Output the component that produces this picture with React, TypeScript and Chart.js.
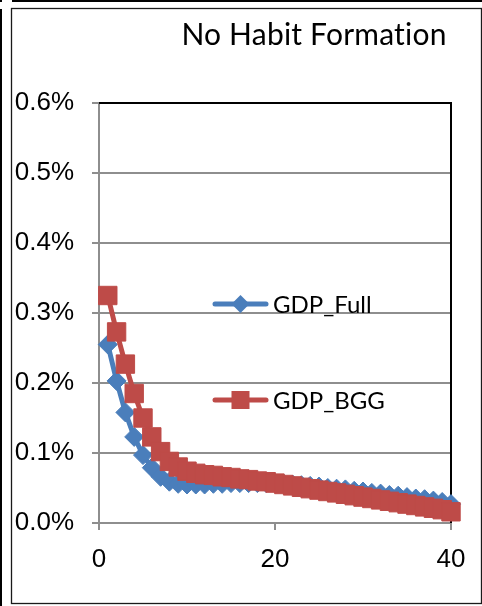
import React, { useEffect, useRef } from 'react';
import { Chart, registerables } from 'chart.js';

Chart.register(...registerables);

const chartTitle = 'No Habit Formation';
const periods = [
  1, 2, 3, 4, 5, 6, 7, 8, 9, 10,
  11, 12, 13, 14, 15, 16, 17, 18, 19, 20,
  21, 22, 23, 24, 25, 26, 27, 28, 29, 30,
  31, 32, 33, 34, 35, 36, 37, 38, 39, 40,
];
// values in percent
const gdpFull = [
  0.255, 0.203, 0.158, 0.123, 0.097, 0.079, 0.066, 0.059, 0.056, 0.055,
  0.055, 0.055, 0.056, 0.056, 0.057, 0.057, 0.057, 0.057, 0.057, 0.057,
  0.056, 0.055, 0.054, 0.053, 0.052, 0.050, 0.049, 0.048, 0.046, 0.045,
  0.043, 0.042, 0.040, 0.039, 0.037, 0.035, 0.034, 0.032, 0.030, 0.027,
];
const gdpBGG = [
  0.325, 0.273, 0.227, 0.185, 0.150, 0.123, 0.102, 0.088, 0.080, 0.074,
  0.071, 0.069, 0.068, 0.066, 0.065, 0.063, 0.062, 0.060, 0.059, 0.057,
  0.055, 0.053, 0.051, 0.049, 0.047, 0.045, 0.043, 0.041, 0.039, 0.037,
  0.035, 0.033, 0.031, 0.029, 0.027, 0.025, 0.023, 0.021, 0.019, 0.016,
];
const seriesNames = ['GDP_Full', 'GDP_BGG'];
const seriesColors = ['#4A7EBB', '#BE4B48'];
const xTickStep = 20;
const yTickStep = 0.1;

const W = 482;
const H = 606;
const GRID = '#8e8e8e';
const TICK_FONT = '"Liberation Sans", Arial, sans-serif';
const TEXT_FONT = 'Lato, "Open Sans", sans-serif';

const decorPlugin = {
  id: 'decor',
  beforeDraw(chart: any) {
    const ctx = chart.ctx;
    ctx.save();
    ctx.fillStyle = '#fff';
    ctx.fillRect(0, 0, W, H);
    ctx.fillStyle = '#000';
    ctx.fillRect(12, 0, W - 12, 2);
    ctx.fillRect(0, 0, 2, 2);
    ctx.fillRect(0, 9, 2, H - 9);
    ctx.strokeStyle = '#1a1a1a';
    ctx.lineWidth = 1.3;
    ctx.strokeRect(11.5, 8.5, 470, 595);
    ctx.restore();
  },
  beforeDatasetsDraw(chart: any) {
    const { ctx, chartArea } = chart;
    ctx.save();
    ctx.strokeStyle = '#000';
    ctx.lineWidth = 2;
    ctx.beginPath();
    ctx.moveTo(chartArea.left, chartArea.top);
    ctx.lineTo(chartArea.right, chartArea.top);
    ctx.lineTo(chartArea.right, chartArea.bottom);
    ctx.stroke();
    ctx.restore();
  },
  afterDraw(chart: any) {
    const ctx = chart.ctx;
    ctx.save();
    // title
    ctx.fillStyle = '#000';
    ctx.font = `30px ${TEXT_FONT}`;
    try { (ctx as any).letterSpacing = '0.2px'; } catch (e) { /* ignore */ }
    ctx.textAlign = 'center';
    ctx.textBaseline = 'alphabetic';
    ctx.fillText(chartTitle, 314, 45);
    try { (ctx as any).letterSpacing = '0px'; } catch (e) { /* ignore */ }
    // legend
    const rows = [304, 400];
    chart.data.datasets.forEach((ds: any, i: number) => {
      const y = rows[i];
      ctx.strokeStyle = ds.borderColor;
      ctx.lineWidth = 5;
      ctx.lineCap = 'round';
      ctx.beginPath();
      ctx.moveTo(215, y);
      ctx.lineTo(266, y);
      ctx.stroke();
      ctx.fillStyle = ds.borderColor;
      const cx = 240.5;
      if (ds.pointStyle === 'rect') {
        ctx.fillRect(cx - 9, y - 9, 18, 18);
      } else {
        const r = 9;
        ctx.beginPath();
        ctx.moveTo(cx - r, y);
        ctx.lineTo(cx, y - r);
        ctx.lineTo(cx + r, y);
        ctx.lineTo(cx, y + r);
        ctx.closePath();
        ctx.fill();
      }
      ctx.fillStyle = '#000';
      ctx.font = `24px ${TEXT_FONT}`;
      ctx.textAlign = 'left';
      ctx.fillText(ds.label, 273, y + 9);
    });
    ctx.restore();
  },
};

export default function App() {
  const ref = useRef<HTMLCanvasElement>(null);
  useEffect(() => {
    const chart = new Chart(ref.current as HTMLCanvasElement, {
      type: 'line',
      data: {
        datasets: [
          {
            label: seriesNames[0],
            data: periods.map((p, i) => ({ x: p, y: gdpFull[i] })),
            borderColor: seriesColors[0],
            backgroundColor: seriesColors[0],
            borderWidth: 5,
            pointStyle: 'rectRot',
            pointRadius: 9.5,
            pointBorderWidth: 1,
            tension: 0,
            clip: false,
            order: 1,
          } as any,
          {
            label: seriesNames[1],
            data: periods.map((p, i) => ({ x: p, y: gdpBGG[i] })),
            borderColor: seriesColors[1],
            backgroundColor: seriesColors[1],
            borderWidth: 5,
            pointStyle: 'rect',
            pointRadius: 13,
            pointBorderWidth: 1,
            tension: 0,
            clip: false,
            order: 0,
          } as any,
        ],
      },
      options: {
        animation: false,
        responsive: false,
        layout: { padding: { left: 0, right: 31, top: 103, bottom: 0 } },
        plugins: {
          legend: { display: false },
          title: { display: false },
          tooltip: { enabled: false },
        },
        scales: {
          x: {
            type: 'linear',
            min: 0,
            max: 40,
            afterFit: (s: any) => { s.height = 83; },
            ticks: {
              stepSize: xTickStep,
              color: '#000',
              font: { family: TICK_FONT, size: 26 },
              padding: 14,
              maxRotation: 0,
            },
            grid: { drawOnChartArea: false, color: GRID, lineWidth: 2, tickLength: 7 },
            border: { color: GRID, width: 2 },
          },
          y: {
            min: 0,
            max: 0.6,
            afterFit: (s: any) => { s.width = 99; },
            ticks: {
              stepSize: yTickStep,
              color: '#000',
              font: { family: TICK_FONT, size: 26 },
              padding: 18,
              callback: (v: any) => Number(v).toFixed(1) + '%',
            },
            grid: { color: GRID, lineWidth: 2, tickLength: 7 },
            border: { color: GRID, width: 2 },
          },
        },
      } as any,
      plugins: [decorPlugin],
    });
    return () => chart.destroy();
  }, []);
  return (
    <div style={{ position: 'absolute', left: 0, top: 0, width: W, height: H, background: '#fff' }}>
      <canvas ref={ref} width={W} height={H} style={{ display: 'block', width: W, height: H }} />
    </div>
  );
}
